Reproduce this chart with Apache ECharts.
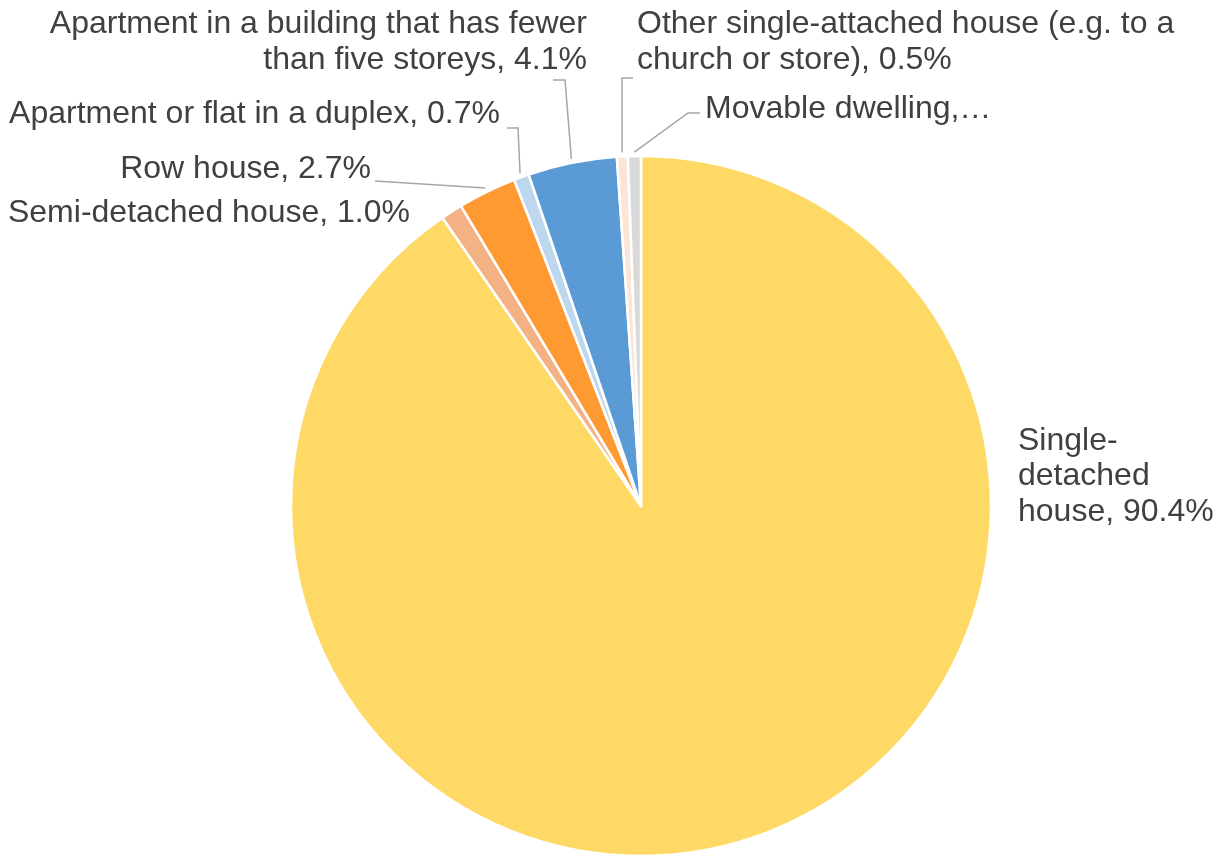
<!DOCTYPE html>
<html>
<head>
<meta charset="utf-8">
<title>Dwelling types</title>
<script src="https://cdn.jsdelivr.net/npm/echarts@6/dist/echarts.min.js"></script>
<style>
  html, body { margin: 0; padding: 0; background: #ffffff; }
  #chart { width: 1222px; height: 856px; }
</style>
</head>
<body>
<div id="chart"></div>
<script>
// Dwelling type names (line breaks mark where each label wraps)
const categories = [
  'Single-\ndetached\nhouse',
  'Semi-detached house',
  'Row house',
  'Apartment or flat in a duplex',
  'Apartment in a building that has fewer\nthan five storeys',
  'Other single-attached house (e.g. to a\nchurch or store)',
  'Movable dwelling'
];
// Share of dwellings, percent
const shares = [90.4, 1.0, 2.7, 0.7, 4.1, 0.5, 0.6];
const sliceColors = ['#FFD966', '#F4B183', '#FF9A33', '#BDD7EE', '#5B9BD5', '#FBE5D6', '#D9D9D9'];

// Pie geometry
const CX = 641, CY = 506, R = 350;

// Where each label sits and which way its text runs
const labelPlacement = [
  { x: 1018, y: 476.5, align: 'left' },
  { x: 410, y: 213.5, align: 'right' },
  { x: 371, y: 169.5, align: 'right' },
  { x: 500, y: 114.5, align: 'right' },
  { x: 587, y: 42, align: 'right' },
  { x: 637, y: 42, align: 'left' },
  { x: 705, y: 109.5, align: 'left' }
];
// Elbow / end points of the leader lines (null = no leader)
const leaderBends = [
  null,
  null,
  [[375, 181]],
  [[518, 128], [507, 128]],
  [[565, 80], [553, 80]],
  [[622, 78], [633, 78]],
  [[688, 113], [700, 113]]
];

const total = shares.reduce((a, b) => a + b, 0);

// Point just outside the outer arc, at the middle of slice i
function sliceTip(i) {
  let before = 0;
  for (let k = 0; k < i; k++) before += shares[k];
  const a = ((before + shares[i] / 2) / total) * 2 * Math.PI;
  const r = R + 4;
  return [CX + r * Math.sin(a), CY - r * Math.cos(a)];
}

const data = categories.map((name, i) => {
  const item = {
    name: name,
    value: shares[i],
    itemStyle: { color: sliceColors[i] },
    labelLine: { show: leaderBends[i] !== null }
  };
  if (i === 6) {
    item.label = { width: 290, overflow: 'truncate', ellipsis: '\u2026' };
  }
  return item;
});

const chart = echarts.init(document.getElementById('chart'), null, { renderer: 'canvas' });

chart.setOption({
  backgroundColor: '#ffffff',
  animation: false,
  series: [{
    type: 'pie',
    center: [CX, CY],
    radius: R,
    startAngle: 90,
    clockwise: true,
    avoidLabelOverlap: false,
    data: data,
    itemStyle: { borderColor: '#ffffff', borderWidth: 2.5 },
    emphasis: { disabled: true },
    label: {
      show: true,
      position: 'outside',
      fontFamily: '"Liberation Sans", Arial, sans-serif',
      fontSize: 32,
      lineHeight: 35.5,
      color: '#404040',
      formatter: p => p.name + ', ' + p.value.toFixed(1) + '%'
    },
    labelLine: {
      show: true,
      lineStyle: { color: '#A6A6A6', width: 1.5 }
    },
    labelLayout: function (params) {
      const i = params.dataIndex;
      const place = labelPlacement[i];
      const out = {
        x: place.x,
        y: place.y,
        align: place.align,
        verticalAlign: 'middle'
      };
      if (leaderBends[i]) {
        out.labelLinePoints = [sliceTip(i)].concat(leaderBends[i]);
      }
      return out;
    }
  }]
});
</script>
</body>
</html>
